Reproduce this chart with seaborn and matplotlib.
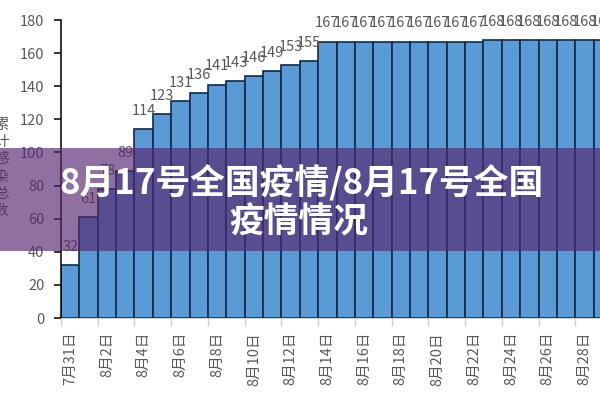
import matplotlib
matplotlib.use("Agg")
import matplotlib.pyplot as plt
import matplotlib.patches as mpatches
import seaborn as sns
import pandas as pd

# dates on the category axis, 7/31 .. 8/29
dates = ["7月31日"] + [f"8月{d}日" for d in range(1, 30)]
# cumulative infections
totals = [32, 61, 78, 89, 114, 123, 131, 136, 141, 143, 146, 149, 153, 155,
          167, 167, 167, 167, 167, 167, 167, 167, 167,
          168, 168, 168, 168, 168, 168, 168]
y_ticks = [0, 20, 40, 60, 80, 100, 120, 140, 160, 180]
y_label = "累计感染总数"
banner_line1 = "8月17号全国疫情/8月17号全国"
banner_line2 = "疫情情况"

df = pd.DataFrame({"date": dates, "total": totals})

sns.set_style("white")
plt.rcParams["font.family"] = ["Noto Sans CJK SC", "DejaVu Sans"]

grey = "#595959"
fig = plt.figure(figsize=(6, 4), dpi=100)
# axes runs past the right edge, the last bar is cut off like the original
ax = fig.add_axes([61 / 600, 82 / 400, 551 / 600, 298 / 400])

sns.barplot(data=df, x="date", y="total", ax=ax, color="#5b9bd5",
            saturation=1, width=1, edgecolor="#0f2a4a", linewidth=1.2)

ax.set_xlim(-0.5, len(dates) - 0.5)
ax.set_ylim(0, 180)
ax.set_yticks(y_ticks)
ax.set_yticklabels([str(v) for v in y_ticks])
ax.tick_params(axis="y", colors="black", labelcolor=grey, labelsize=10.5,
               length=5, width=1.1, pad=7, direction="out", left=True)

# labels every other day, grey marks between category pairs
ax.set_xticks(range(0, len(dates), 2))
ax.set_xticklabels(dates[::2], rotation=90, va="top", ha="center")
ax.set_xticks([i - 0.5 for i in range(0, len(dates) + 1, 2)], minor=True)
ax.tick_params(axis="x", which="major", length=0, pad=10, labelsize=10.5,
               labelcolor=grey)
ax.tick_params(axis="x", which="minor", length=6, width=1, color="#d0d0d0",
               bottom=True)
ax.set_xlabel("")
ax.set_ylabel("")

for side in ["top", "right"]:
    ax.spines[side].set_visible(False)
ax.spines["left"].set_color("black")
ax.spines["left"].set_linewidth(1.1)
ax.spines["bottom"].set_color("#d0d0d0")

ax.bar_label(ax.containers[0], padding=8, fontsize=10.5, color=grey)

fig.text(0.002, 0.58, "\n".join(y_label), ha="center", va="center",
         fontsize=10.5, color=grey, linespacing=1.3)

# translucent banner on top of the chart
fig.patches.append(mpatches.Rectangle((0, 1 - 251 / 400), 1, 103 / 400,
                                      transform=fig.transFigure,
                                      facecolor="#55266f", alpha=0.66,
                                      edgecolor="none", zorder=5))
fig.text(0.502, 1 - 183 / 400, banner_line1, ha="center", va="center",
         fontsize=25, fontweight="bold", color="white", zorder=6)
fig.text(0.498, 1 - 222 / 400, banner_line2, ha="center", va="center",
         fontsize=25, fontweight="bold", color="white", zorder=6)

fig.savefig("out.png", dpi=100)
